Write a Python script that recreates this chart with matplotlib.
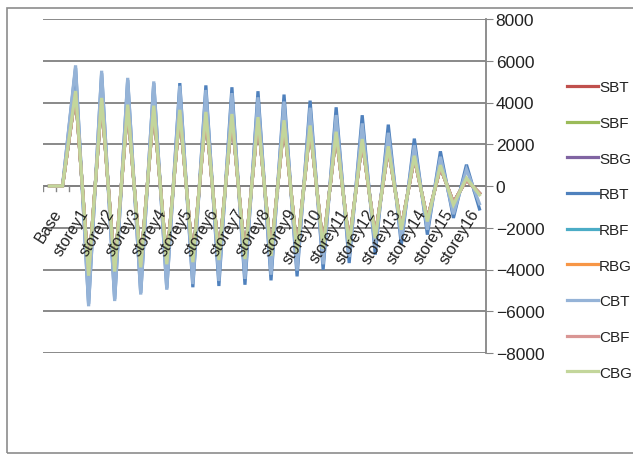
import matplotlib
matplotlib.use('Agg')
import matplotlib.pyplot as plt
from matplotlib.patches import Rectangle

plt.rcParams['font.family'] = ['Liberation Sans Narrow', 'Liberation Sans', 'DejaVu Sans']

# one row per category; storey rows come in pairs (top / bottom of the storey)
categories = ['Base', '', 'storey1', '', 'storey2', '', 'storey3', '', 'storey4', '',
              'storey5', '', 'storey6', '', 'storey7', '', 'storey8', '', 'storey9', '',
              'storey10', '', 'storey11', '', 'storey12', '', 'storey13', '', 'storey14', '',
              'storey15', '', 'storey16', '']

rbt = [0, 0, 5650, -5650, 5400, -5420, 5080, -5120, 4930, -4900, 4930, -4850,
       4820, -4790, 4730, -4730, 4540, -4520, 4380, -4330, 4090, -4010, 3770, -3690,
       3390, -3290, 2940, -2810, 2270, -2330, 1660, -1530, 1020, -1100]
cbt = [0, 0, 5780, -5760, 5520, -5510, 5180, -5200, 5010, -4970, 4800, -4700,
       4600, -4550, 4450, -4450, 4250, -4250, 4050, -4050, 3750, -3750, 3400, -3400,
       3000, -3000, 2550, -2550, 1950, -2100, 1400, -1350, 800, -850]
cbg = [0, 0, 4550, -4300, 4220, -4100, 3900, -3900, 3850, -3750, 3650, -3650,
       3550, -3550, 3450, -3500, 3300, -3350, 3150, -3200, 2900, -3000, 2600, -2850,
       2250, -2500, 1900, -2100, 1450, -1700, 1000, -900, 380, -420]
# the remaining series sit under CBG in the picture
inner = [0, 0, 4450, -4200, 4120, -4000, 3800, -3800, 3750, -3650, 3550, -3550,
         3450, -3450, 3350, -3400, 3200, -3250, 3050, -3100, 2800, -2900, 2500, -2750,
         2150, -2400, 1800, -2000, 1350, -1600, 900, -800, 300, -350]

series = ['SBT', 'SBF', 'SBG', 'RBT', 'RBF', 'RBG', 'CBT', 'CBF', 'CBG']
values = {'SBT': inner, 'SBF': inner, 'SBG': inner, 'RBT': rbt, 'RBF': inner,
          'RBG': inner, 'CBT': cbt, 'CBF': inner, 'CBG': cbg}
colors = {'SBT': '#C0504D', 'SBF': '#9BBB59', 'SBG': '#8064A2', 'RBT': '#4F81BD',
          'RBF': '#4BACC6', 'RBG': '#F79646', 'CBT': '#95B3D7', 'CBF': '#D99694',
          'CBG': '#C3D69B'}

fig = plt.figure(figsize=(6.33, 4.56), dpi=100)
fig.patches.append(Rectangle((7 / 633, 2 / 456), 1.0, 445 / 456, transform=fig.transFigure,
                             fill=False, edgecolor='#8c8c8c', linewidth=1.2))
ax = fig.add_axes([43 / 633, 1 - 354 / 456, 443 / 633, 334 / 456])

x = list(range(len(categories)))
lines = []
for name in series:
    ln, = ax.plot(x, values[name], color=colors[name], linewidth=2.3, label=name,
                  solid_joinstyle='miter', zorder=3)
    lines.append(ln)

ax.set_xlim(-0.5, len(categories) - 0.5)
ax.set_ylim(-8000, 8000)
ax.set_yticks(range(-8000, 8001, 2000))
ax.yaxis.tick_right()
ax.tick_params(axis='y', direction='out', length=5, color='#868686', labelsize=12.5,
               pad=2, labelcolor='#222222')
ax.grid(axis='y', color='#808080', linewidth=1.3)
ax.set_axisbelow(True)
for s in ['top', 'left', 'bottom']:
    ax.spines[s].set_visible(False)
ax.spines['right'].set_color('#868686')
ax.spines['right'].set_linewidth(1.3)

# category axis crosses at zero
ax.axhline(0, color='#808080', linewidth=1.3, zorder=2)
ax.set_xticks([])
for b in range(len(categories) + 1):
    ax.plot([b - 0.5, b - 0.5], [0, -250], color='#868686', linewidth=1.0, zorder=2)
for i, lab in enumerate(categories):
    if lab:
        ax.text(i + 0.2, -950, lab, rotation=58, rotation_mode='anchor', ha='right',
                va='top', fontsize=11.5, color='#222222', zorder=4)

fig.legend(handles=lines, loc='center left', bbox_to_anchor=(567 / 633, 1 - 231 / 456),
           frameon=False, fontsize=11, labelspacing=1.42, handlelength=2.0,
           handletextpad=0.1, borderpad=0, borderaxespad=0, labelcolor='#222222')

fig.savefig('out.png', dpi=100)
